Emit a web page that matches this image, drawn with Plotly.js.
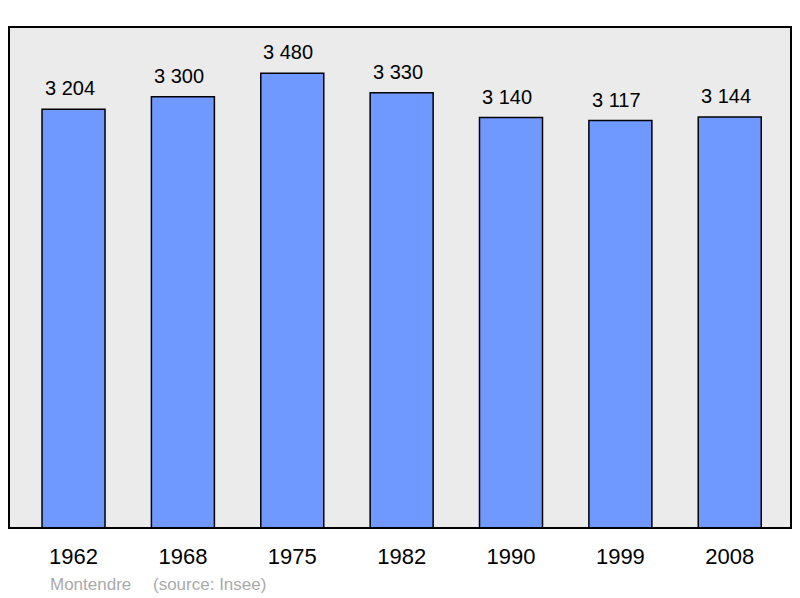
<!DOCTYPE html>
<html>
<head>
<meta charset="utf-8">
<script src="https://cdn.plot.ly/plotly-3.0.1.min.js"></script>
<style>html,body{margin:0;padding:0;background:#fff;}#chart{width:800px;height:598px;}</style>
</head>
<body>
<div id="chart"></div>
<script>
var years = ["1962", "1968", "1975", "1982", "1990", "1999", "2008"];
var population = [3204, 3300, 3480, 3330, 3140, 3117, 3144];
var valueLabels = ["3 204", "3 300", "3 480", "3 330", "3 140", "3 117", "3 144"];
var townName = "Montendre";
var sourceName = "(source: Insee)";

var FONT = 'Liberation Sans, Arial, sans-serif';

var annotations = years.map(function (y, i) {
  return {
    x: i, y: population[i], xref: 'x', yref: 'y',
    text: valueLabels[i], showarrow: false,
    yanchor: 'bottom', yshift: 8, xshift: -4,
    font: {family: FONT, size: 20, color: '#000'}
  };
});
annotations.push({
  xref: 'paper', yref: 'paper', x: 0.0499, y: -0.112, xanchor: 'left', yanchor: 'middle',
  text: townName, showarrow: false,
  font: {family: FONT, size: 17, color: '#aaaaaa'}
});
annotations.push({
  xref: 'paper', yref: 'paper', x: 0.1816, y: -0.112, xanchor: 'left', yanchor: 'middle',
  text: sourceName, showarrow: false,
  font: {family: FONT, size: 17, color: '#aaaaaa'}
});

var trace = {
  type: 'bar', x: years, y: population, width: 0.576,
  marker: {color: '#7099ff', line: {color: '#000', width: 1.5}},
  hoverinfo: 'none'
};

var layout = {
  width: 800, height: 598,
  margin: {l: 9, r: 9, t: 27, b: 70},
  paper_bgcolor: '#ffffff', plot_bgcolor: '#ebebeb',
  showlegend: false,
  xaxis: {
    type: 'category', range: [-0.59, 6.56], showgrid: false, zeroline: false,
    showline: false, ticks: '', ticklabelstandoff: 13,
    tickfont: {family: FONT, size: 22, color: '#000'}
  },
  yaxis: {
    range: [0, 3833], showgrid: false, zeroline: false, showline: false,
    showticklabels: false, ticks: ''
  },
  shapes: [{
    type: 'path', xref: 'paper', yref: 'paper', layer: 'above',
    path: 'M 0,0 L 0,1 L 1,1 L 1,0 Z',
    line: {color: '#000', width: 2}
  }],
  annotations: annotations
};

Plotly.newPlot('chart', [trace], layout, {staticPlot: true, displayModeBar: false});
</script>
</body>
</html>
